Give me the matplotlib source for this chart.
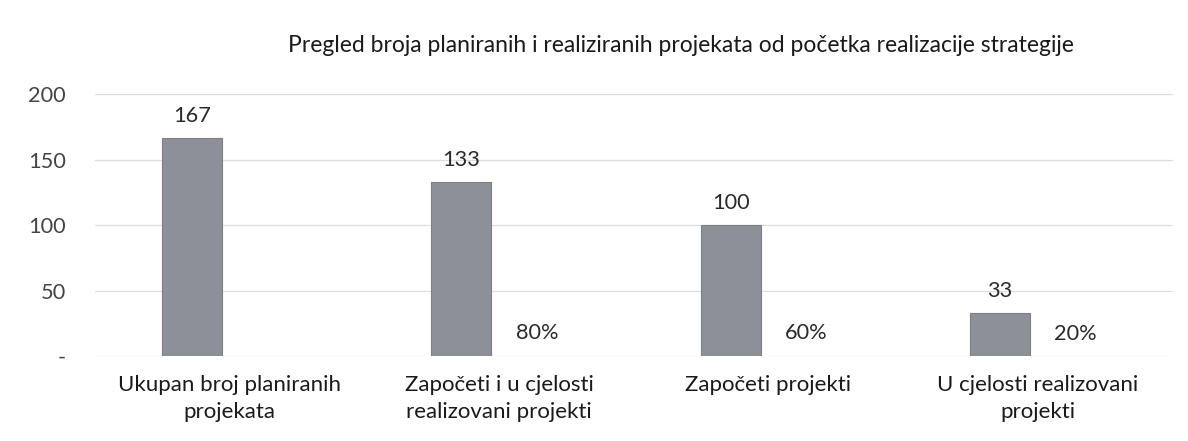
import matplotlib
matplotlib.use("Agg")
import matplotlib.pyplot as plt
import numpy as np

title = "Pregled broja planiranih i realiziranih projekata od početka realizacije strategije"
categories = ["Ukupan broj planiranih\nprojekata",
              "Započeti i u cjelosti\nrealizovani projekti",
              "Započeti projekti",
              "U cjelosti realizovani\nprojekti"]
counts = [167, 133, 100, 33]
percent_labels = ["", "80%", "60%", "20%"]
percent_values = [0, 0.8, 0.6, 0.2]
yticks = [0, 50, 100, 150, 200]
ytick_labels = ["-", "50", "100", "150", "200"]

plt.rcParams['font.family'] = ['Lato', 'DejaVu Sans']
text_color = "#2a2a2a"

fig = plt.figure(figsize=(11.88, 4.41), dpi=100)
ax = fig.add_axes([0.08, 0.193, 0.907, 0.593])

x = np.arange(len(categories))
off = 0.14
bw = 0.222
ax.bar(x - off, counts, width=bw, color="#8e9098", edgecolor="#7d7f87", linewidth=0.8, zorder=3)
for xi, c in zip(x, counts):
    ax.text(xi - off, c + 9, str(c), ha="center", va="bottom", fontsize=15.7, color=text_color)
for xi, pv, pl in zip(x, percent_values, percent_labels):
    if pl:
        ax.text(xi + off, pv + 9, pl, ha="center", va="bottom", fontsize=15.7, color=text_color)

ax.set_xlim(-0.5, len(categories) - 0.5)
ax.set_ylim(0, 200)
ax.set_yticks(yticks)
ax.set_yticklabels(ytick_labels, fontsize=15.7, color="#444444")
ax.set_xticks(x)
ax.set_xticklabels(categories, fontsize=16, color="#1a1a1a", linespacing=1.4)
ax.tick_params(axis="both", length=0)
ax.tick_params(axis="y", pad=21)
ax.tick_params(axis="x", pad=14)
ax.grid(axis="y", color="#dedede", linewidth=0.9, zorder=0)
for s in ax.spines.values():
    s.set_visible(False)

fig.text(0.573, 0.897, title, ha="center", va="center", fontsize=16.5, color="#1a1a1a")

fig.savefig("out.png", dpi=100)
